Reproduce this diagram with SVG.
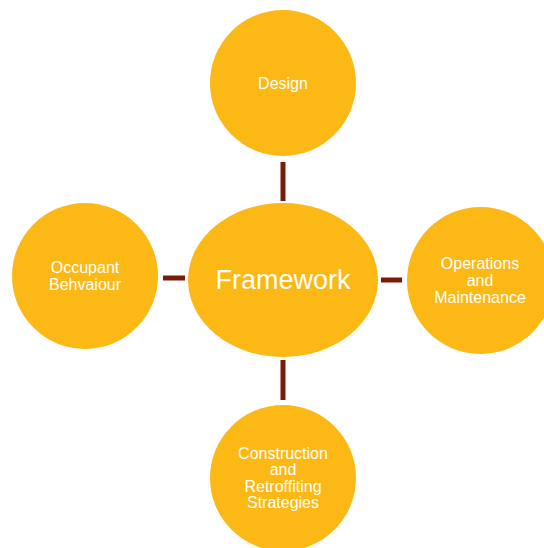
<svg xmlns="http://www.w3.org/2000/svg" width="544" height="548" viewBox="0 0 544 548">
<style>
.node{fill:#FCB814;}
.t{fill:#FFFFFF;font-family:"Liberation Sans",Arial,sans-serif;font-size:16px;text-anchor:middle;dominant-baseline:central;}
.big{font-size:27px;}
.c{stroke:#7A1A08;stroke-width:5;fill:none;}
</style>
<rect width="544" height="548" fill="#FFFFFF"/>
<g id="connectors">
<line class="c" x1="283" y1="162" x2="283" y2="201"/>
<line class="c" x1="283" y1="360" x2="283" y2="400"/>
<line class="c" x1="163" y1="278" x2="185" y2="278"/>
<line class="c" x1="381" y1="280" x2="402" y2="280"/>
</g>
<g id="framework">
<ellipse class="node" cx="283" cy="280" rx="95" ry="77"/>
<text class="t big" x="283" y="280">Framework</text>
</g>
<g id="design">
<circle class="node" cx="283" cy="83" r="73"/>
<text class="t" x="283" y="83">Design</text>
</g>
<g id="operations">
<circle class="node" cx="480.5" cy="280.5" r="73.5"/>
<text class="t" x="480" y="263">Operations</text>
<text class="t" x="480" y="280">and</text>
<text class="t" x="480" y="297">Maintenance</text>
</g>
<g id="occupant">
<circle class="node" cx="85" cy="276" r="73"/>
<text class="t" x="85" y="267">Occupant</text>
<text class="t" x="85" y="284">Behvaiour</text>
</g>
<g id="construction">
<circle class="node" cx="283" cy="478" r="73"/>
<text class="t" x="283" y="453">Construction</text>
<text class="t" x="283" y="469.5">and</text>
<text class="t" x="283" y="486">Retroffiting</text>
<text class="t" x="283" y="502.5">Strategies</text>
</g>
</svg>
